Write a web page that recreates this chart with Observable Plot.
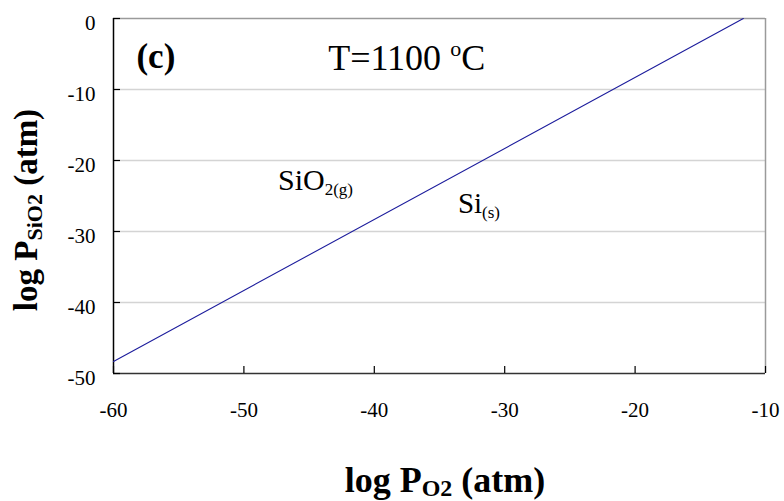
<!DOCTYPE html>
<html>
<head>
<meta charset="utf-8">
<script src="https://cdn.jsdelivr.net/npm/d3@7"></script>
<script src="https://cdn.jsdelivr.net/npm/@observablehq/plot@0.6"></script>
<style>
  html, body { margin: 0; padding: 0; background: #fff; }
  #chart svg { display: block; }
  #chart svg text { font-family: "Liberation Serif", "Times New Roman", serif !important; }
</style>
</head>
<body>
<div id="chart"></div>
<script>
// ---- data ----
const xTicks = [-60, -50, -40, -30, -20, -10];
const yTicks = [0, -10, -20, -30, -40, -50];
const yGrid = [-10, -20, -30, -40];
const boundaryLogPO2 = [-60, -11.7];
const boundaryLogPSiO2 = [-48.3, 0];
const panelLabel = "(c)";
const tempLabel = "T=1100 ";
const regionSiO2 = { main: "SiO", sub: "2(g)" };
const regionSi = { main: "Si", sub: "(s)" };

const boundary = boundaryLogPO2.map((x, i) => ({ x, y: boundaryLogPSiO2[i] }));

const W = 784, H = 501;
const mL = 113, mR = 19, mT = 18, mB = 128;
const plotW = W - mL - mR, plotH = H - mT - mB;
const FONT = "Liberation Serif, Times New Roman, serif";

const plot = Plot.plot({
  width: W,
  height: H,
  marginLeft: mL,
  marginRight: mR,
  marginTop: mT,
  marginBottom: mB,
  style: { fontFamily: FONT, fontSize: "21px", background: "#fff", color: "#000" },
  x: { domain: [-60, -10] },
  y: { domain: [-50, 0] },
  marks: [
    Plot.gridY(yGrid, { stroke: "#d4d4d4", strokeOpacity: 1, strokeWidth: 1.5 }),
    Plot.ruleY([0], { stroke: "#9a9a9a", strokeWidth: 1.5 }),
    Plot.ruleX([-10], { stroke: "#9a9a9a", strokeWidth: 1.5 }),
    Plot.ruleY([-50], { stroke: "#333", strokeWidth: 1.5 }),
    Plot.ruleX([-60], { stroke: "#000", strokeWidth: 1.5 }),
    Plot.tickX(xTicks, { x: d => d, insetTop: plotH - 7, stroke: "#000", strokeWidth: 1.2 }),
    Plot.tickY(yTicks, { y: d => d, insetRight: plotW - 7, stroke: "#000", strokeWidth: 1.2 }),
    Plot.line(boundary, { x: "x", y: "y", stroke: "#1c1c9c", strokeWidth: 1.1 }),
    Plot.axisX(xTicks, { tickSize: 0, tickPadding: 29, label: null, tickFormat: d => String(d), fill: "#000", fontSize: 21, fontFamily: FONT }),
    Plot.axisY(yTicks, { tickSize: 0, tickPadding: 18, dy: 5, label: null, tickFormat: d => String(d), fill: "#000", fontSize: 21, fontFamily: FONT })
  ]
});

document.getElementById("chart").appendChild(plot);

const sx = plot.scale("x"), sy = plot.scale("y");
const svg = d3.select(plot);
const ann = svg.append("g").attr("font-family", FONT).attr("fill", "#000").attr("text-anchor", "start");

// panel label
ann.append("text")
  .attr("text-anchor", "start")
  .attr("x", sx.apply(-58.2)).attr("y", sy.apply(-7.0))
  .attr("font-size", 35).attr("font-weight", "bold")
  .text(panelLabel);

// temperature
const t = ann.append("text")
  .attr("text-anchor", "start")
  .attr("x", sx.apply(-43.5)).attr("y", sy.apply(-7.3))
  .attr("font-size", 36);
t.append("tspan").text(tempLabel);
t.append("tspan").attr("font-size", 22).attr("dy", -14).text("o");
t.append("tspan").attr("dy", 14).text("C");

// region labels
function subLabel(xv, yv, obj, size, subSize, shift) {
  const e = ann.append("text").attr("text-anchor", "start")
    .attr("x", sx.apply(xv)).attr("y", sy.apply(yv)).attr("font-size", size);
  e.append("tspan").text(obj.main);
  e.append("tspan").attr("font-size", subSize).attr("dy", shift).text(obj.sub);
}
subLabel(-47.35, -24.2, regionSiO2, 30, 17, 5);
subLabel(-33.55, -27.45, regionSi, 29, 17, 5);

// axis titles
const xt = svg.append("text")
  .attr("font-family", FONT).attr("font-weight", "bold").attr("font-size", 36)
  .attr("text-anchor", "middle").attr("fill", "#000")
  .attr("x", 445).attr("y", 492);
xt.append("tspan").text("log P");
xt.append("tspan").attr("font-size", 24).attr("dy", 4).text("O2");
xt.append("tspan").attr("dy", -4).text(" (atm)");

const yt = svg.append("text")
  .attr("font-family", FONT).attr("font-weight", "bold").attr("font-size", 33)
  .attr("text-anchor", "middle").attr("fill", "#000")
  .attr("transform", "translate(37,210) rotate(-90)");
yt.append("tspan").text("log P");
yt.append("tspan").attr("font-size", 22).attr("dy", 5).text("SiO2");
yt.append("tspan").attr("dy", -5).text(" (atm)");
</script>
</body>
</html>
